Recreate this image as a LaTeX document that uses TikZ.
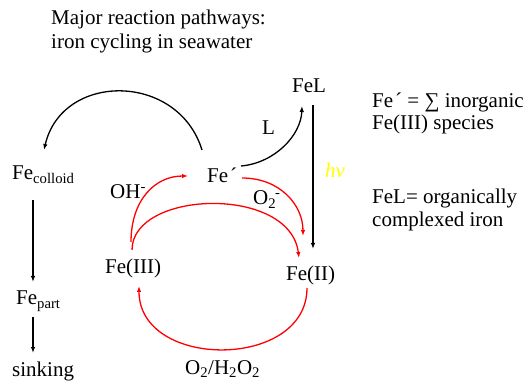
\documentclass[tikz,border=0pt]{standalone}
\usepackage{fontspec}
\setmainfont{Liberation Serif}
\usetikzlibrary{arrows.meta}
\begin{document}
\begin{tikzpicture}[x=1pt,y=-1pt,
  lbl/.style={anchor=base west,inner sep=0pt,font=\fontsize{21}{24}\selectfont},
  blk/.style={line width=1.3pt,-{Latex[length=6pt,width=4.5pt]}},
  redarr/.style={line width=1.3pt,red,-{Latex[length=6pt,width=4.5pt]}}]
\useasboundingbox (0,0) rectangle (525,382);
% texts
\node[lbl] (t1) at (51,25) {Major reaction pathways:};
\node[lbl] (t2) at (51,49) {iron cycling in seawater};
\node[lbl] (feL) at (292,93) {FeL};
\node[lbl] (n1) at (372,108) {Fe\kern2pt´ = ∑ inorganic};
\node[lbl] (n2) at (372,130) {Fe(III) species};
\node[lbl] (n3) at (372,204) {FeL= organically};
\node[lbl] (n4) at (372,227) {complexed iron};
\node[lbl] (fec) at (12,180) {Fe\textsubscript{colloid}};
\node[lbl] (fep) at (207,183) {Fe\kern2pt´};
\node[lbl] (oh) at (110,199) {OH\textsuperscript{-}};
\node[lbl] (otwo) at (253,205) {O\textsubscript{2}\kern-1pt\textsuperscript{-}};
\node[lbl] (L) at (262,135) {L};
\node[lbl,text={rgb,255:red,255;green,255;blue,0}] (hv) at (325,178) {\textit{hv}};
\node[lbl] (fe3) at (105,273) {Fe(III)};
\node[lbl] (fe2) at (286,280) {Fe(II)};
\node[lbl] (fepart) at (16,305) {Fe\textsubscript{part}};
\node[lbl] (sink) at (12,376) {sinking};
\node[lbl] (ox) at (185,374) {O\textsubscript{2}/H\textsubscript{2}O\textsubscript{2}};
% black connectors
\draw[blk] ([shift={(-5,-33)}]fep.base west) .. controls (178,72) and (62,72) .. ([shift={(32,-30)}]fec.base west);
\draw[blk] ([shift={(21,20)}]fec.base west) -- ([shift={(17,-23)}]fepart.base west);
\draw[blk] ([shift={(17,12)}]fepart.base west) -- ([shift={(21,-23)}]sink.base west);
\draw[blk] ([shift={(34,-17)}]fep.base west) .. controls (275,163) and (301,135) .. ([shift={(10,13)}]feL.base west);
\draw[blk] ([shift={(21,12)}]feL.base west) -- ([shift={(27,-31)}]fe2.base west);
% red connectors
\draw[redarr] ([shift={(26,-31)}]fe3.base west) .. controls (131,200) and (155,176) .. ([shift={(-19,-7)}]fep.base west);
\draw[redarr] ([shift={(27,-23)}]fe3.base west) .. controls (132,190) and (290,185) .. ([shift={(13,-22)}]fe2.base west);
\draw[redarr] ([shift={(35,-5)}]fep.base west) .. controls (280,178) and (303,205) .. ([shift={(17,-44)}]fe2.base west);
\draw[redarr] ([shift={(21,8)}]fe2.base west) .. controls (307,370) and (139,370) .. ([shift={(34,13)}]fe3.base west);
\end{tikzpicture}
\end{document}
